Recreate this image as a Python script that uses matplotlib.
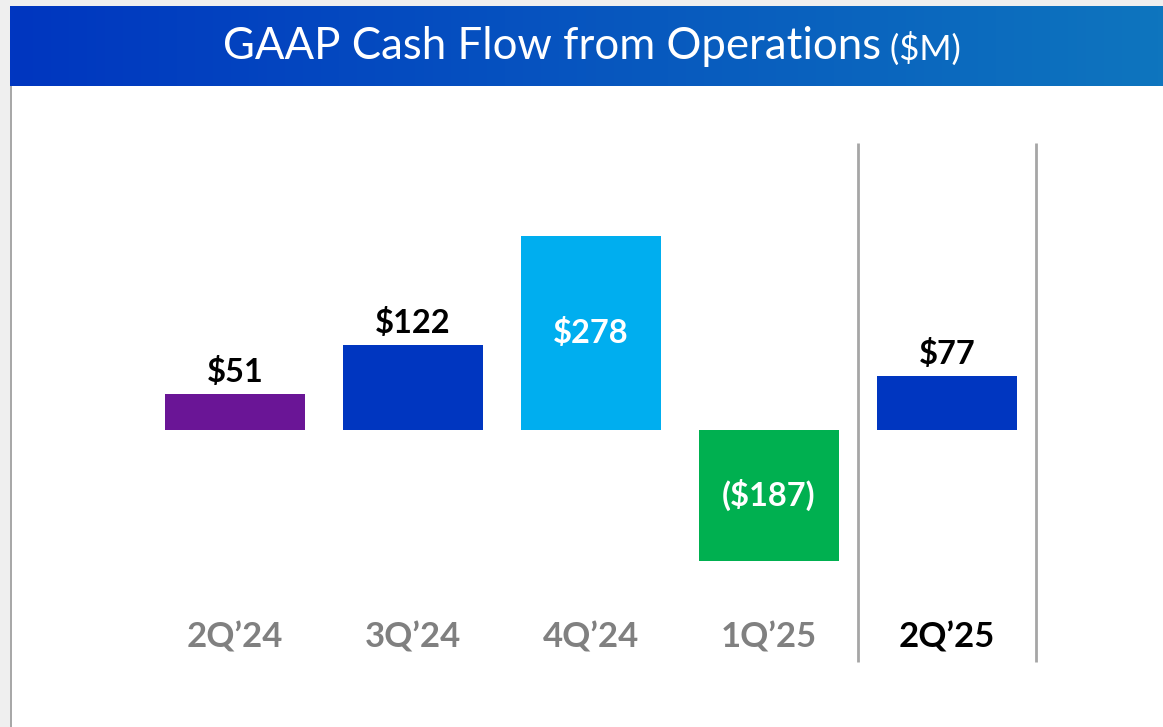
import numpy as np
import matplotlib.pyplot as plt
from matplotlib.patches import Rectangle

plt.rcParams["font.family"] = ["Lato", "DejaVu Sans"]

# Data
quarters = ["2Q\u201924", "3Q\u201924", "4Q\u201924", "1Q\u201925", "2Q\u201925"]
cash_flow = [51, 122, 278, -187, 77]
value_labels = ["$51", "$122", "$278", "($187)", "$77"]
bar_colors = ["#6a1596", "#0036c0", "#00aeef", "#00b050", "#0036c0"]
label_inside = [False, False, True, True, False]
tick_colors = ["#808080", "#808080", "#808080", "#808080", "#000000"]

W, H = 1163, 727
fig = plt.figure(figsize=(W / 100, H / 100), dpi=100)
fig.patch.set_facecolor("white")

# light grey frame at top and left, with a darker rule
fig.patches.append(Rectangle((0, 0), 10 / W, 1, transform=fig.transFigure,
                             facecolor="#efefef", edgecolor="none", zorder=0))
fig.patches.append(Rectangle((0, 1 - 6 / H), 1, 6 / H, transform=fig.transFigure,
                             facecolor="#efefef", edgecolor="none", zorder=0))
fig.patches.append(Rectangle((10 / W, 0), 2 / W, 1 - 86 / H, transform=fig.transFigure,
                             facecolor="#a8a8a8", edgecolor="none", zorder=0))

# title banner with horizontal gradient
banner = fig.add_axes([10 / W, 1 - 86 / H, 1 - 10 / W, 80 / H])
grad = np.linspace(0, 1, 256)
c0 = np.array([0, 54, 192]) / 255
c1 = np.array([14, 117, 190]) / 255
img = (c0[None, :] * (1 - grad[:, None]) + c1[None, :] * grad[:, None])[None, :, :]
banner.imshow(img, aspect="auto", extent=[0, 1, 0, 1])
banner.set_xlim(0, 1)
banner.set_ylim(0, 1)
banner.axis("off")
t1 = banner.text(0.0, 0.49, "GAAP Cash Flow from Operations", color="white",
                 fontsize=31.5, va="center", ha="left")
fig.canvas.draw()
r = fig.canvas.get_renderer()
bb1 = t1.get_window_extent(r)
t2 = banner.text(0.0, 0.46, " ($M)", color="white", fontsize=25, va="center", ha="left")
bb2 = t2.get_window_extent(r)
total = bb1.width + bb2.width
start = (592 - total / 2 - 10) / (W - 10)
t1.set_x(start)
t2.set_x(start + bb1.width / (W - 10))

# main chart, pixel-mapped axes
ax = fig.add_axes([0, 0, 1, 1 - 86 / H])
ax.set_facecolor("none")
ax.axis("off")
step, x0 = 178.0, 235.0
scale = 0.698  # px per $M
base_py = 430.0
ax.set_xlim((0 - x0) / step, (W - x0) / step)
ax.set_ylim((base_py - H) / scale, (base_py - 86) / scale)

x = np.arange(len(quarters))
ax.bar(x, cash_flow, width=0.79, color=bar_colors, zorder=2)

for i, (v, lab, inside) in enumerate(zip(cash_flow, value_labels, label_inside)):
    if inside:
        ax.text(i, v / 2, lab, ha="center", va="center", color="white",
                fontsize=23.5, fontweight="bold", zorder=3)
    else:
        ax.annotate(lab, (i, v), xytext=(0, 5), textcoords="offset points",
                    ha="center", va="bottom", color="black",
                    fontsize=23.5, fontweight="bold", zorder=3)

tick_y = (base_py - 638) / scale
for i, (q, c) in enumerate(zip(quarters, tick_colors)):
    ax.text(i, tick_y, q, ha="center", va="center", color=c,
            fontsize=25, fontweight="bold")

# separators around the latest quarter
sep_top = (base_py - 143) / scale
sep_bot = (base_py - 662) / scale
last = len(quarters) - 1
ax.vlines([last - 0.5, last + 0.5], sep_bot, sep_top, color="#a6a6a6", linewidth=2)

fig.savefig("out.png", dpi=100)
